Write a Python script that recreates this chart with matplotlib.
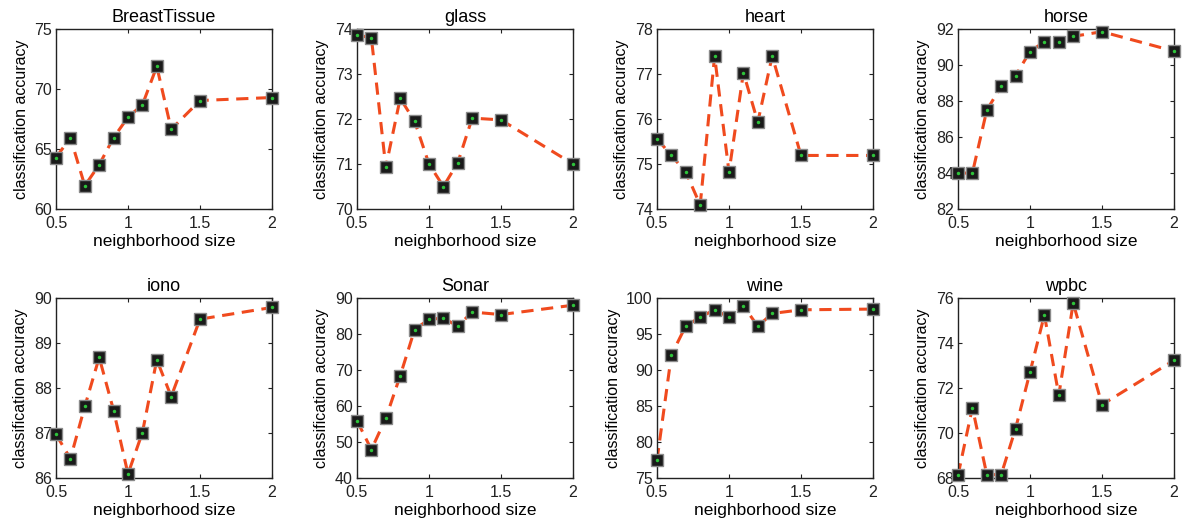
import numpy as np
import matplotlib
matplotlib.use("Agg")
import matplotlib.pyplot as plt

plt.rcParams['font.family'] = ['Liberation Sans', 'DejaVu Sans']

# neighborhood sizes (shared by every panel)
x = [0.5, 0.6, 0.7, 0.8, 0.9, 1.0, 1.1, 1.2, 1.3, 1.5, 2.0]

breast = [64.28, 65.95, 61.94, 63.69, 65.95, 67.65, 68.68, 71.88, 66.64, 69.04, 69.29]
glass = [73.87, 73.80, 70.93, 72.46, 71.95, 71.00, 70.50, 71.03, 72.02, 71.98, 71.00]
heart = [75.56, 75.19, 74.82, 74.09, 77.40, 74.82, 77.03, 75.93, 77.40, 75.19, 75.19]
horse = [83.99, 84.00, 87.49, 88.82, 89.41, 90.75, 91.29, 91.29, 91.59, 91.85, 90.77]
iono = [86.97, 86.43, 87.59, 88.68, 87.50, 86.09, 87.01, 88.63, 87.81, 89.53, 89.79]
sonar = [55.9, 47.9, 56.6, 68.4, 81.2, 84.1, 84.4, 82.2, 86.1, 85.4, 88.0]
wine = [77.48, 92.10, 96.12, 97.34, 98.36, 97.34, 98.93, 96.07, 97.85, 98.36, 98.46]
wpbc = [68.12, 71.13, 68.15, 68.15, 70.20, 72.70, 75.25, 71.68, 75.78, 71.26, 73.23]

titles = ["BreastTissue", "glass", "heart", "horse", "iono", "Sonar", "wine", "wpbc"]
series = [breast, glass, heart, horse, iono, sonar, wine, wpbc]
ylims = [(60, 75), (70, 74), (74, 78), (82, 92), (86, 90), (40, 90), (75, 100), (68, 76)]
yticks = [[60, 65, 70, 75], [70, 71, 72, 73, 74], [74, 75, 76, 77, 78],
          [82, 84, 86, 88, 90, 92], [86, 87, 88, 89, 90], [40, 50, 60, 70, 80, 90],
          [75, 80, 85, 90, 95, 100], [68, 70, 72, 74, 76]]

W, H = 1185, 519
fig = plt.figure(figsize=(W / 100, H / 100), dpi=100)

lefts = [56, 357, 657, 958]
tops = [29, 298]
aw, ah = 216, 180

for i, (t, y) in enumerate(zip(titles, series)):
    r, c = divmod(i, 4)
    ax = fig.add_axes([lefts[c] / W, 1 - (tops[r] + ah) / H, aw / W, ah / H])
    ax.plot(x, y, linestyle=(0, (4, 2.5)), color='#f04a1e', lw=2.2, zorder=2)
    ax.plot(x, y, 's', ms=8.5, mfc='#1a1a1a', mec='#8a8a8a', mew=1.0, ls='none',
            zorder=3, clip_on=False)
    ax.plot(x, y, 'o', ms=2.5, color='#2ec43a', mec='none', ls='none',
            zorder=4, clip_on=False)
    ax.set_xlim(0.5, 2)
    ax.set_ylim(*ylims[i])
    ax.set_xticks([0.5, 1, 1.5, 2])
    ax.set_xticklabels(['0.5', '1', '1.5', '2'])
    ax.set_yticks(yticks[i])
    ax.tick_params(direction='in', top=True, right=True, labelsize=11.5, length=3,
                   colors='#222222')
    ax.tick_params(axis='x', pad=5)
    ax.tick_params(axis='y', pad=3)
    for s in ax.spines.values():
        s.set_linewidth(1.0)
        s.set_color('#222222')
    ax.set_title(t, fontsize=13, pad=5)
    ax.set_xlabel('neighborhood size', fontsize=12.5, labelpad=2)
    ax.set_ylabel('classification accuracy', fontsize=11.5, labelpad=4)

fig.savefig('out.png', dpi=100)
